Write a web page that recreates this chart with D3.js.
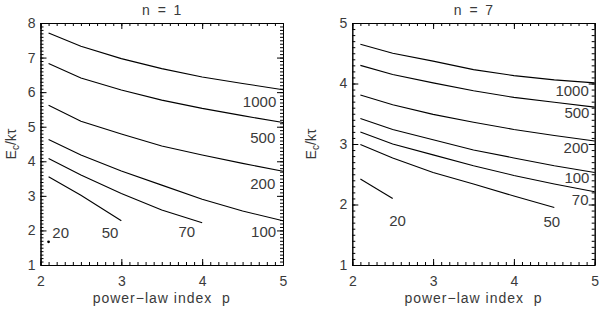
<!DOCTYPE html>
<html>
<head>
<meta charset="utf-8">
<script src="https://cdn.jsdelivr.net/npm/d3@7"></script>
<style>
body { margin: 0; background: #fff; }
svg text { font-family: "Liberation Sans", Arial, sans-serif; fill: #3a3a3a; }
</style>
</head>
<body>
<div id="chart"></div>
<script>
// power-law index values where curves were computed
const pIndex = [2.1, 2.5, 3.0, 3.5, 4.0, 4.5, 5.0];
const xTicks = [2, 3, 4, 5];

// n = 1 panel: Ec/kT for each curve label
const n1E1000 = [7.71, 7.33, 6.97, 6.68, 6.44, 6.25, 6.07];
const n1E500 = [6.83, 6.41, 6.06, 5.77, 5.53, 5.32, 5.12];
const n1E200 = [5.62, 5.16, 4.79, 4.44, 4.18, 3.94, 3.71];
const n1E100 = [4.63, 4.18, 3.72, 3.31, 2.90, 2.56, 2.28];
const n1E70 = [4.08, 3.60, 3.07, 2.59, 2.22];
const n1E50 = [3.55, 3.02, 2.28];
const n1E20 = [1.67];
const n1YTicks = [1, 2, 3, 4, 5, 6, 7, 8];
const n1Names = ["1000", "500", "200", "100", "70", "50", "20"];
const n1LabelP = [4.71, 4.75, 4.75, 4.76, 3.81, 2.86, 2.25];
const n1LabelE = [5.58, 4.53, 3.20, 1.80, 1.80, 1.79, 1.79];

// n = 7 panel
const n7E1000 = [4.65, 4.50, 4.37, 4.23, 4.13, 4.06, 4.01];
const n7E500 = [4.30, 4.15, 4.01, 3.88, 3.77, 3.69, 3.61];
const n7E200 = [3.81, 3.65, 3.49, 3.36, 3.24, 3.14, 3.05];
const n7E100 = [3.42, 3.24, 3.07, 2.90, 2.77, 2.64, 2.53];
const n7E70 = [3.20, 3.00, 2.82, 2.64, 2.48, 2.34, 2.21];
const n7E50 = [2.99, 2.77, 2.53, 2.34, 2.14, 1.95];
const n7E20 = [2.42, 2.10];
const n7YTicks = [1, 2, 3, 4, 5];
const n7Names = ["1000", "500", "200", "100", "70", "50", "20"];
const n7LabelP = [4.72, 4.78, 4.77, 4.78, 4.82, 4.47, 2.56];
const n7LabelE = [3.79, 3.43, 2.85, 2.35, 1.99, 1.63, 1.65];

const svg = d3.select('#chart').append('svg')
	.attr('width', 600)
	.attr('height', 309);

const plotTop = 23, plotBottom = 265;

var drawPanel = function (cfg) {
	var x = d3.scaleLinear().domain([2, 5]).range([cfg.left, cfg.right]);
	var y = d3.scaleLinear().domain([1, cfg.yMax]).range([plotBottom, plotTop]);
	var g = svg.append('g');

	var xMinor = d3.range(20, 51).map(function (v) { return v / 10; });
	var yMinor = d3.range(10, cfg.yMax * 10 + 1).map(function (v) { return v / 10; });

	// minor ticks on all four sides, pointing in
	var minor = [
		[d3.axisBottom(x).tickValues(xMinor), 0, plotBottom],
		[d3.axisTop(x).tickValues(xMinor), 0, plotTop],
		[d3.axisLeft(y).tickValues(yMinor), cfg.left, 0],
		[d3.axisRight(y).tickValues(yMinor), cfg.right, 0]
	];
	minor.forEach(function (m) {
		g.append('g').attr('transform', 'translate(' + m[1] + ',' + m[2] + ')')
			.call(m[0].tickSizeInner(-3).tickSizeOuter(0).tickFormat(''));
	});

	// major ticks, labels only bottom and left
	g.append('g').attr('transform', 'translate(0,' + plotBottom + ')')
		.call(d3.axisBottom(x).tickValues(xTicks).tickSizeInner(-6).tickSizeOuter(0)
			.tickPadding(11.5).tickFormat(d3.format('d')))
		.attr('font-size', 14);
	g.append('g').attr('transform', 'translate(0,' + plotTop + ')')
		.call(d3.axisTop(x).tickValues(xTicks).tickSizeInner(-6).tickSizeOuter(0).tickFormat(''));
	g.append('g').attr('transform', 'translate(' + cfg.left + ',0)')
		.call(d3.axisLeft(y).tickValues(cfg.yTicks).tickSizeInner(-6).tickSizeOuter(0)
			.tickPadding(5).tickFormat(d3.format('d')))
		.attr('font-size', 14);
	g.append('g').attr('transform', 'translate(' + cfg.right + ',0)')
		.call(d3.axisRight(y).tickValues(cfg.yTicks).tickSizeInner(-6).tickSizeOuter(0).tickFormat(''));

	g.selectAll('.domain, .tick line').attr('stroke', '#000');
	g.selectAll('.tick text').attr('fill', '#3a3a3a');

	// curves
	var line = d3.line()
		.x(function (d, i) { return x(pIndex[i]); })
		.y(function (d) { return y(d); });

	cfg.series.forEach(function (vals) {
		if (vals.length > 1) {
			g.append('path').datum(vals)
				.attr('d', line)
				.attr('fill', 'none')
				.attr('stroke', '#000')
				.attr('stroke-width', 1.1);
		} else {
			g.append('circle')
				.attr('cx', x(pIndex[0]))
				.attr('cy', y(vals[0]))
				.attr('r', 1.4)
				.attr('fill', '#000');
		}
	});

	// curve labels
	g.selectAll('text.lab').data(cfg.names).enter().append('text')
		.attr('class', 'lab')
		.attr('x', function (d, i) { return x(cfg.labelP[i]); })
		.attr('y', function (d, i) { return y(cfg.labelE[i]); })
		.attr('text-anchor', 'middle')
		.attr('font-size', 15)
		.text(function (d) { return d; });

	// title
	g.append('text')
		.attr('x', (cfg.left + cfg.right) / 2)
		.attr('y', 14.5)
		.attr('text-anchor', 'middle')
		.attr('font-size', 14)
		.style('white-space', 'pre')
		.text(cfg.title);

	// x axis title
	g.append('text')
		.attr('x', (cfg.left + cfg.right) / 2)
		.attr('y', 303)
		.attr('text-anchor', 'middle')
		.attr('font-size', 14)
		.attr('letter-spacing', 1)
		.style('white-space', 'pre')
		.text('power\u2212law index  p');

	// y axis title
	var yt = g.append('text')
		.attr('transform', 'translate(' + cfg.yTitleX + ',' + ((plotTop + plotBottom) / 2) + ') rotate(-90)')
		.attr('text-anchor', 'middle')
		.attr('font-size', 14);
	yt.append('tspan').text('E');
	yt.append('tspan').attr('dy', 3).attr('font-size', 10).text('c');
	yt.append('tspan').attr('dy', -3).text('/k\u03c4');
};

drawPanel({
	title: 'n  =  1', left: 40.5, right: 283, yMax: 8, yTicks: n1YTicks, yTitleX: 16,
	series: [n1E1000, n1E500, n1E200, n1E100, n1E70, n1E50, n1E20],
	names: n1Names, labelP: n1LabelP, labelE: n1LabelE
});
drawPanel({
	title: 'n  =  7', left: 352.3, right: 594.7, yMax: 5, yTicks: n7YTicks, yTitleX: 316,
	series: [n7E1000, n7E500, n7E200, n7E100, n7E70, n7E50, n7E20],
	names: n7Names, labelP: n7LabelP, labelE: n7LabelE
});
</script>
</body>
</html>
